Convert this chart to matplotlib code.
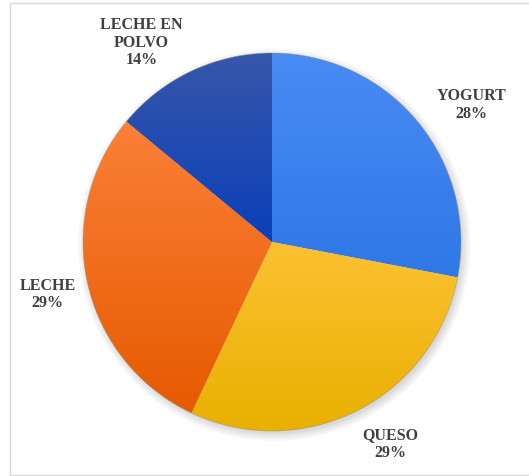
import numpy as np
import matplotlib.pyplot as plt
from matplotlib.colors import LinearSegmentedColormap
from matplotlib.patches import Rectangle, Circle

# Share of each dairy product
labels = ['YOGURT', 'QUESO', 'LECHE', 'LECHE EN\nPOLVO']
shares = [28, 29, 29, 14]
# top / bottom shade for each slice
top_colors = ['#4a8bf4', '#fcc132', '#fb8038', '#3757aa']
bottom_colors = ['#2f78e6', '#e9b000', '#e65a00', '#0a3fb8']

W, H, DPI = 529, 477, 100
cx, cy, R = 272, 243, 189  # pie centre and radius in pixels

fig = plt.figure(figsize=(W / DPI, H / DPI), dpi=DPI)
ax = fig.add_axes([0, 0, 1, 1])

# light frame around the chart
fig.patches.append(Rectangle((10 / W, 1 / H), 1.2, (H - 5) / H, transform=fig.transFigure,
                             fill=False, edgecolor='#d9d9d9', linewidth=1.0))

# soft drop shadow under the pie
for i, a in enumerate([0.05, 0.05, 0.06, 0.07]):
    ax.add_patch(Circle((0.012, -0.016), 1.0 + 0.012 * (3 - i), color='#555555', alpha=a, lw=0, zorder=0))

wedges, texts = ax.pie(shares, labels=labels, startangle=90, counterclock=False, radius=1.0,
                       labeldistance=1.26, center=(0, 0), frame=True,
                       wedgeprops=dict(linewidth=0, edgecolor='none'))
ax.set_aspect('equal')
ax.set_xlim(-cx / R, (W - cx) / R)
ax.set_ylim(-(H - cy) / R, cy / R)
ax.axis('off')

for w, tc, bc in zip(wedges, top_colors, bottom_colors):
    w.set_facecolor('none')
    bb = w.get_path().get_extents(w.get_patch_transform())
    cmap = LinearSegmentedColormap.from_list('g', [bc, tc])
    grad = np.linspace(0, 1, 256).reshape(-1, 1)
    im = ax.imshow(grad, cmap=cmap, origin='lower', aspect='auto',
                   extent=(bb.x0, bb.x1, bb.y0, bb.y1), zorder=1, interpolation='bilinear')
    im.set_clip_path(w)

# outer rim
ax.add_patch(Circle((0, 0), 1.0, fill=False, edgecolor='#9a8a60', lw=0.6, alpha=0.5, zorder=2))

# fine-tune label positions
offsets = [(0.083, -0.072), (0.054, 0.06), (0.043, 0.003), (-0.155, -0.08)]
for t, s, lab, (dx, dy) in zip(texts, shares, labels, offsets):
    x, y = t.get_position()
    t.set_position((x + dx, y + dy))
    t.set_text(f'{lab}\n{s}%')
    t.set_ha('center')
    t.set_va('center')
    t.set_multialignment('center')
    t.set_fontfamily('Liberation Serif')
    t.set_fontweight('bold')
    t.set_fontsize(11.5)
    t.set_color('#404040')
    t.set_linespacing(1.12)

fig.savefig('out.png', dpi=DPI)
